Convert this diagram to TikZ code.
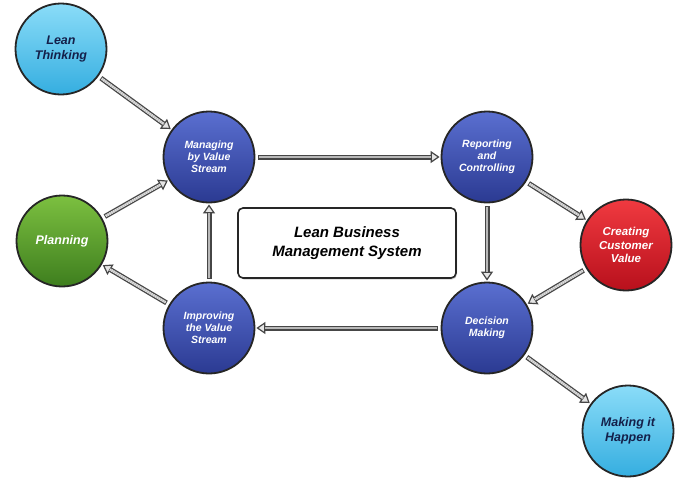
\documentclass[tikz,border=0pt]{standalone}
\usepackage{fontspec}
\setmainfont{Liberation Sans}
\usetikzlibrary{arrows.meta,shadows}
\definecolor{dbtop}{HTML}{5A6FD0}
\definecolor{dbbot}{HTML}{2B3A92}
\definecolor{lbtop}{HTML}{8ADCF8}
\definecolor{lbbot}{HTML}{35AEE0}
\definecolor{grtop}{HTML}{7CC040}
\definecolor{grbot}{HTML}{3E7E1E}
\definecolor{rdtop}{HTML}{F03A40}
\definecolor{rdbot}{HTML}{B8101C}
\definecolor{navy}{HTML}{14204A}
\begin{document}
\begin{tikzpicture}[x=1pt,y=-1pt,
  ball/.style={circle, minimum size=91pt, inner sep=0pt, draw=black!85, line width=1.8pt,
     align=center, font=\bfseries\itshape\fontsize{10.5}{12}\selectfont},
  darkball/.style={ball, top color=dbtop, bottom color=dbbot, text=white},
  lightball/.style={ball, top color=lbtop, bottom color=lbbot, text=navy, font=\bfseries\itshape\fontsize{12.5}{15}\selectfont},
  greenball/.style={ball, top color=grtop, bottom color=grbot, text=white, font=\bfseries\itshape\fontsize{12.5}{15}\selectfont},
  redball/.style={ball, top color=rdtop, bottom color=rdbot, text=white, font=\bfseries\itshape\fontsize{11.5}{13.5}\selectfont},
  shaft/.style={line width=5pt, draw=gray!55!black, -{Triangle[length=9pt,width=12pt,line width=1.2pt,fill=gray!20]},
     shorten <=3pt, shorten >=1pt,
     postaction={draw=gray!55, line width=2.4pt, -, shorten <=4pt, shorten >=9.5pt}},
  hatch/.style={shaft,
     postaction={draw=gray!25, line width=2.4pt, -, dash pattern=on 1.1pt off 1.1pt, shorten <=4pt, shorten >=9.5pt}}
]
\useasboundingbox (0,0) rectangle (680,480);
\fill[white] (0,0) rectangle (680,480);

\node[lightball] (lt) at (61,49) {Lean\\Thinking};
\node[darkball]  (mv) at (209,157) {Managing\\by Value\\Stream};
\node[darkball]  (rc) at (487,157) {Reporting\\and\\Controlling};
\node[redball]   (cv) at (626,245) {Creating\\Customer\\Value};
\node[greenball] (pl) at (62,241) {Planning};
\node[darkball]  (iv) at (209,328) {Improving\\the Value\\Stream};
\node[darkball]  (dm) at (487,328) {Decision\\Making};
\node[lightball] (mh) at (628,431) {Making it\\Happen};

\node[draw=black!85, line width=1.6pt, rounded corners=5pt, fill=white,
      drop shadow={shadow xshift=1pt, shadow yshift=-1.5pt, opacity=0.35},
      minimum width=218pt, minimum height=70pt, align=center,
      font=\bfseries\itshape\fontsize{15}{19}\selectfont] (box) at (347,243)
      {Lean Business\\Management System};

\draw[hatch] (lt) -- (mv);
\draw[hatch] (pl) -- (mv);
\draw[hatch] (iv) -- (pl);
\draw[shaft] (iv) -- (mv);
\draw[shaft] (mv) -- (rc);
\draw[shaft] (rc) -- (dm);
\draw[shaft] (dm) -- (iv);
\draw[hatch] (rc) -- (cv);
\draw[hatch] (cv) -- (dm);
\draw[hatch] (dm) -- (mh);
\end{tikzpicture}
\end{document}
